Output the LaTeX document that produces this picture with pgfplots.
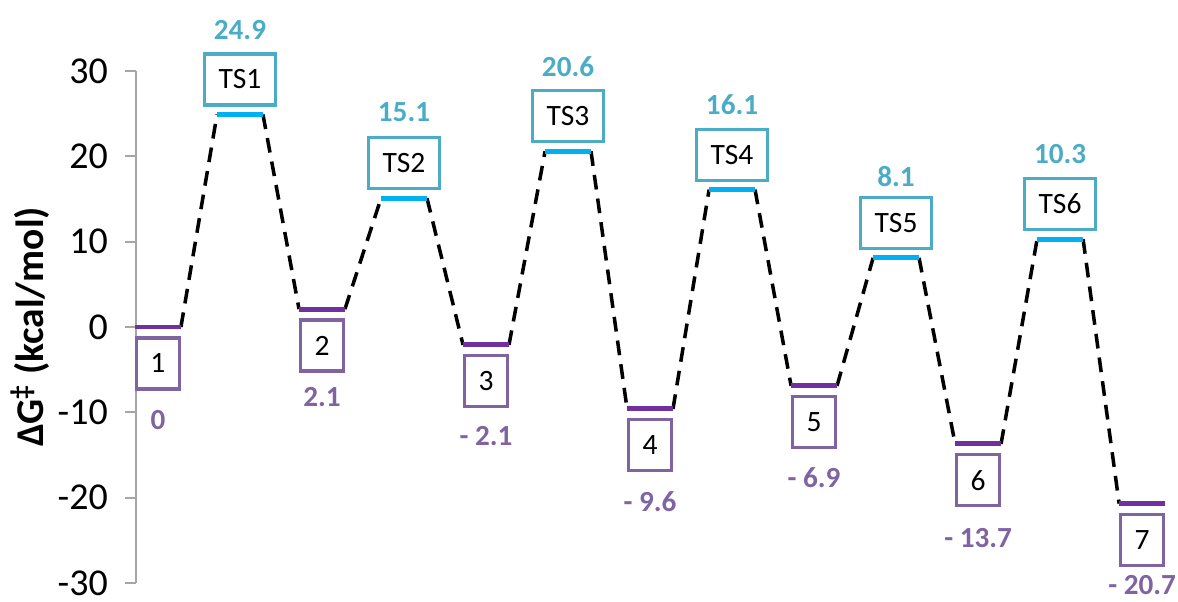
\documentclass[border=0pt]{standalone}
\usepackage{fontspec}
\setmainfont{Carlito}
\usepackage{pgfplots}
\usepackage{pgfplotstable}
\pgfplotsset{compat=1.18}

\definecolor{tsline}{HTML}{00B0F0}
\definecolor{tsbox}{HTML}{4BACC6}
\definecolor{minline}{HTML}{7030A0}
\definecolor{minbox}{HTML}{8064A2}
\definecolor{axgray}{HTML}{A6A6A6}

% intermediates: position, energy, box label, value label, label offset (cm)
\pgfplotstableread[col sep=comma]{
x,E,name,val,dy
0,0,1,0,0.93
2,2.1,2,2.1,0.88
4,-2.1,3,- 2.1,0.91
6,-9.6,4,- 9.6,0.93
8,-6.9,5,- 6.9,0.92
10,-13.7,6,- 13.7,0.94
12,-20.7,7,- 20.7,0.81
}\minima

% transition states
\pgfplotstableread[col sep=comma]{
x,E,name,val,dy
1,24.9,TS1,24.9,0.84
3,15.1,TS2,15.1,0.86
5,20.6,TS3,20.6,0.85
7,16.1,TS4,16.1,0.85
9,8.1,TS5,8.1,0.81
11,10.3,TS6,10.3,0.85
}\ts

\begin{document}
\begin{tikzpicture}
  \begin{axis}[
    name=ax,
    scale only axis, width=10.34cm, height=5.12cm,
    xmin=-0.268, xmax=12.34, ymin=-30, ymax=30,
    axis x line=none, axis y line*=left,
    y axis line style={axgray, line width=0.6pt},
    ytick={-30,-20,-10,0,10,20,30},
    yticklabels={-30,-20,-10,0,10,20,30},
    yticklabel style={font=\fontsize{10.8}{12}\selectfont, anchor=east, xshift=-1.4pt},
    ytick style={axgray, line width=0.6pt},
    tick align=outside, major tick length=3.1pt,
    ylabel={\bfseries ΔG\textsuperscript{‡} (kcal/mol)},
    ylabel style={font=\fontsize{11.2}{13}\selectfont, at={(axis description cs:-0.1025,0.5)}, anchor=center},
    clip=false,
    unbounded coords=jump,
  ]
    % dashed connectors
    \addplot[black, line width=1pt, dash pattern=on 4.2pt off 2.6pt] coordinates {
      (0.28,0) (0.72,24.9) (nan,nan)
      (1.28,24.9) (1.72,2.1) (nan,nan)
      (2.28,2.1) (2.72,15.1) (nan,nan)
      (3.28,15.1) (3.72,-2.1) (nan,nan)
      (4.28,-2.1) (4.72,20.6) (nan,nan)
      (5.28,20.6) (5.72,-9.6) (nan,nan)
      (6.28,-9.6) (6.72,16.1) (nan,nan)
      (7.28,16.1) (7.72,-6.9) (nan,nan)
      (8.28,-6.9) (8.72,8.1) (nan,nan)
      (9.28,8.1) (9.72,-13.7) (nan,nan)
      (10.28,-13.7) (10.72,10.3) (nan,nan)
      (11.28,10.3) (11.72,-20.7)
    };
    % energy levels
    \addplot[only marks, mark=-, mark size=6.6pt, mark options={line width=1.4pt, draw=minline}] table[x=x,y=E]{\minima};
    \addplot[only marks, mark=-, mark size=6.6pt, mark options={line width=1.4pt, draw=tsline}] table[x=x,y=E]{\ts};
    % boxes
    \addplot[only marks, mark=none, point meta=explicit symbolic, nodes near coords,
      nodes near coords style={anchor=center, yshift=-0.365cm, draw=minbox, line width=0.9pt, fill=white,
        minimum width=0.43cm, minimum height=0.51cm, inner sep=0pt, text=black, font=\fontsize{8.4}{10}\selectfont}]
      table[x=x,y=E,meta=name]{\minima};
    \addplot[only marks, mark=none, point meta=explicit symbolic, nodes near coords,
      nodes near coords style={anchor=center, yshift=0.35cm, draw=tsbox, line width=0.9pt, fill=white,
        minimum width=0.71cm, minimum height=0.51cm, inner sep=0pt, text=black, font=\fontsize{8.4}{10}\selectfont}]
      table[x=x,y=E,meta=name]{\ts};
    % values
    \addplot[only marks, mark=none, point meta=explicit symbolic, nodes near coords,
      visualization depends on=\thisrow{dy} \as \dy,
      nodes near coords style={anchor=center, yshift={-\dy*1cm}, text=minbox, font=\bfseries\fontsize{8.3}{10}\selectfont}]
      table[x=x,y=E,meta=val]{\minima};
    \addplot[only marks, mark=none, point meta=explicit symbolic, nodes near coords,
      visualization depends on=\thisrow{dy} \as \dy,
      nodes near coords style={anchor=center, yshift={\dy*1cm}, text=tsbox, font=\bfseries\fontsize{8.3}{10}\selectfont}]
      table[x=x,y=E,meta=val]{\ts};
  \end{axis}
  \pgfresetboundingbox
  \path ([xshift=-1.36cm,yshift=-0.19cm]ax.south west) rectangle ([xshift=0.08cm,yshift=0.71cm]ax.north east);
\end{tikzpicture}
\end{document}
